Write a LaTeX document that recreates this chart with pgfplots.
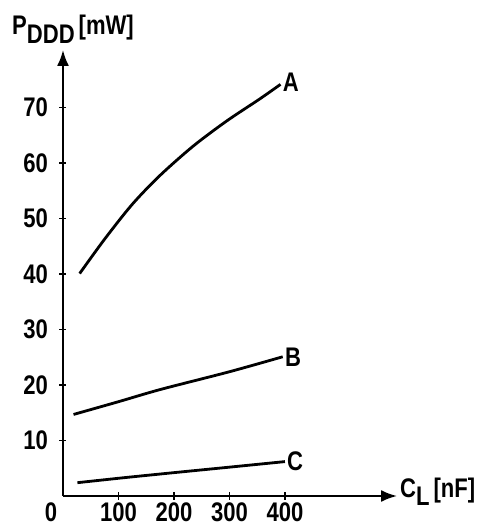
\documentclass[border=0pt]{standalone}
\usepackage{fontspec}
\setmainfont{Liberation Sans}[FakeStretch=0.82]
\usepackage{pgfplots}
\pgfplotsset{compat=1.18}
\usetikzlibrary{arrows.meta}
\begin{document}
\begin{tikzpicture}[font=\fontsize{27}{29}\selectfont\bfseries]
\begin{axis}[
  at={(0,0)}, anchor=south west,
  scale only axis, width=334bp, height=446bp,
  xmin=0, xmax=602, ymin=0, ymax=80.4,
  axis lines=left,
  axis line style={line width=2bp, -{Latex[length=16bp,width=12bp]}},
  xtick={100,200,300,400}, ytick={10,20,30,40,50,60,70},
  tick align=center, major tick length=7bp,
  tick style={line width=1.6bp, black},
  /pgf/number format/assume math mode=true,
  ticklabel style={font=\fontsize{27}{29}\selectfont\bfseries},
  xticklabel style={yshift=0bp, inner xsep=0pt},
  yticklabel style={xshift=-8bp},
  clip=false,
]
\addplot[line width=2.8bp, smooth, black] coordinates {
(30,40.1) (75,46.3) (125,52.6) (175,57.8) (235,63.1) (295,67.6) (355,71.6) (392,74.2)};
\addplot[line width=2.8bp, smooth, black] coordinates {
(19,14.7) (100,17) (175.5,19.2) (300,22.4) (396,25.1)};
\addplot[line width=2.8bp, smooth, black] coordinates {
(26,2.4) (110,3.3) (199,4.2) (300,5.2) (400,6.2)};
\node[anchor=west, inner sep=1bp] at (axis cs:394,74.6) {A};
\node[anchor=west, inner sep=1bp] at (axis cs:398,25.1) {B};
\node[anchor=west, inner sep=1bp] at (axis cs:402,6.2) {C};
\end{axis}
\node[anchor=base, inner sep=0pt] at (-12bp,-25bp) {0};
\node[anchor=base west, inner sep=0pt] at (-51bp,461bp) {P\raisebox{-9bp}{DDD}\hspace{4bp}[mW]};
\node[anchor=base west, inner sep=0pt] at (337bp,-1bp) {C\raisebox{-8bp}{L}\hspace{4bp}[nF]};
\path[use as bounding box] (-63bp,-30bp) rectangle (427bp,496bp);
\end{tikzpicture}
\end{document}
